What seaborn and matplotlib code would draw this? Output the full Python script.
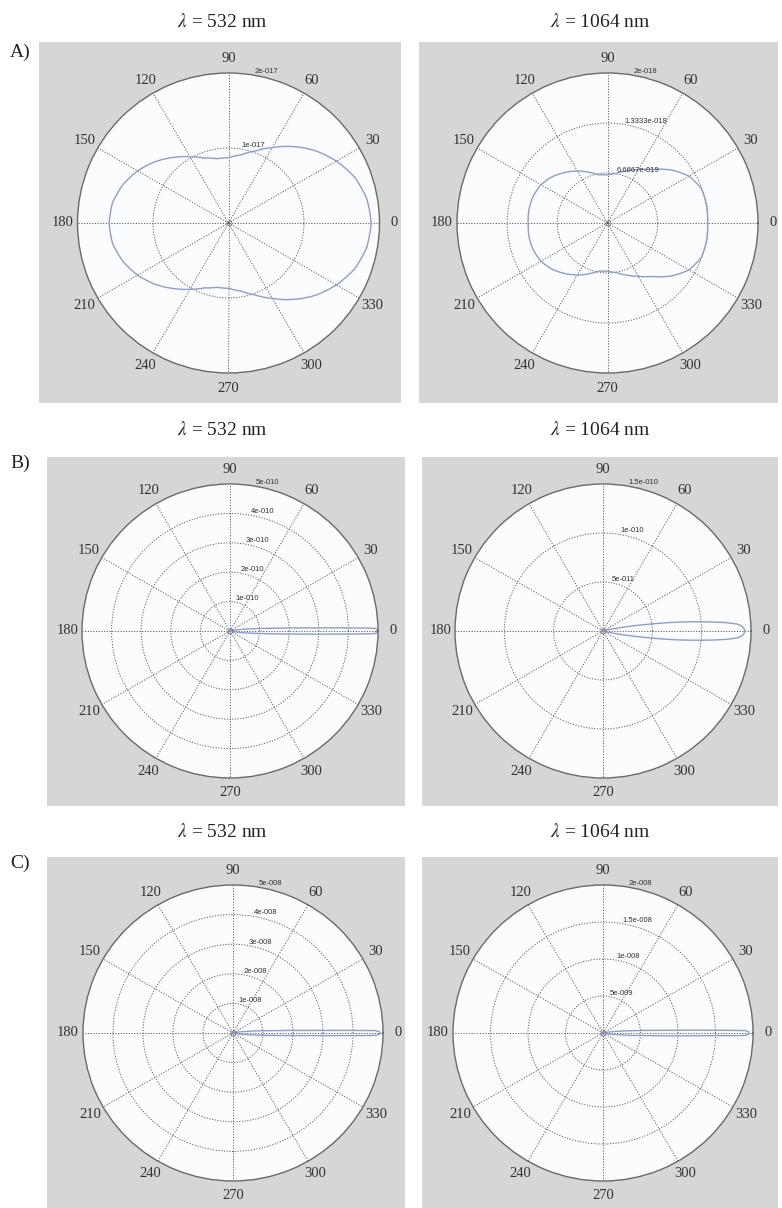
"""
Polar scattering patterns for 532 nm and 1064 nm, three particle cases.
"""

import matplotlib.pyplot as plt
import matplotlib.patches as mpatches
import numpy as np
import pandas as pd
import seaborn as sns


FIG_W, FIG_H = 782, 1208

PANEL_GRAY = "#d6d6d6"
CIRCLE_FACE = "#fbfcfe"
CURVE_BLUE = "#8d9ecb"
GRID_GRAY = "#5f5f5f"

TITLES = [r"$\lambda$ = 532 nm", r"$\lambda$ = 1064 nm"]
ROW_LABELS = ["A)", "B)", "C)"]

THETA_TICKS = list(range(0, 360, 30))
THETA_LABELS = [str(t) for t in THETA_TICKS]

# row A: angles in degrees, radii in units of the ring labels
ANGLES_A = list(range(0, 361, 10))
R_A_532 = [1.89, 1.86, 1.78, 1.65, 1.50, 1.33, 1.16, 1.02, 0.92, 0.87,
           0.87, 0.92, 1.02, 1.14, 1.27, 1.39, 1.49, 1.56, 1.58,
           1.56, 1.49, 1.39, 1.27, 1.14, 1.02, 0.92, 0.87,
           0.87, 0.92, 1.02, 1.16, 1.33, 1.50, 1.65, 1.78, 1.86, 1.89]
R_A_1064 = [1.33, 1.34, 1.33, 1.25, 1.10, 0.93, 0.82, 0.74, 0.67, 0.64,
            0.65, 0.72, 0.80, 0.88, 0.96, 1.02, 1.05, 1.06, 1.055,
            1.06, 1.05, 1.02, 0.96, 0.88, 0.80, 0.72, 0.65,
            0.64, 0.67, 0.74, 0.82, 0.93, 1.10, 1.25, 1.33, 1.34, 1.33]

# row B: narrow forward lobes
ANGLES_B_532 = [-18, -14, -10, -8, -6, -5, -4, -3, -2, -1.5, -1.25, -1, -0.5, 0,
                0.5, 1, 1.25, 1.5, 2, 3, 4, 5, 6, 8, 10, 14, 18]
R_B_532 = [0.0, 0.05, 0.20, 0.39, 0.71, 0.97, 1.35, 1.93, 3.00, 4.00, 4.65, 4.93, 4.95, 4.97,
           4.95, 4.93, 4.65, 4.00, 3.00, 1.93, 1.35, 0.97, 0.71, 0.39, 0.20, 0.05, 0.0]
ANGLES_B_1064 = [-16, -14, -12, -10, -9, -8, -7, -6, -5, -4, -3, -2, -1, 0,
                 1, 2, 3, 4, 5, 6, 7, 8, 9, 10, 12, 14, 16]
R_B_1064 = [0.0, 0.04, 0.12, 0.28, 0.40, 0.55, 0.73, 0.90, 1.07, 1.24, 1.36, 1.41, 1.43, 1.44,
            1.43, 1.41, 1.36, 1.24, 1.07, 0.90, 0.73, 0.55, 0.40, 0.28, 0.12, 0.04, 0.0]

# row C: very thin forward lobes
ANGLES_C_532 = [-18, -14, -10, -8, -6, -4, -3, -2, -1.5, -1, -0.5, 0,
                0.5, 1, 1.5, 2, 3, 4, 6, 8, 10, 14, 18]
R_C_532 = [0.0, 0.04, 0.17, 0.34, 0.61, 1.10, 1.59, 2.48, 3.30, 4.75, 4.88, 4.90,
           4.88, 4.75, 3.30, 2.48, 1.59, 1.10, 0.61, 0.34, 0.17, 0.04, 0.0]
ANGLES_C_1064 = [-18, -14, -10, -8, -6, -4, -3, -2, -1.5, -1, -0.5, 0,
                 0.5, 1, 1.5, 2, 3, 4, 6, 8, 10, 14, 18]
R_C_1064 = [0.0, 0.02, 0.07, 0.13, 0.26, 0.48, 0.69, 1.07, 1.43, 1.90, 1.94, 1.95,
            1.94, 1.90, 1.43, 1.07, 0.69, 0.48, 0.26, 0.13, 0.07, 0.02, 0.0]

RINGS_A_532 = [1, 2]
RING_LABELS_A_532 = ["1e-017", "2e-017"]
RINGS_A_1064 = [2 / 3, 4 / 3, 2]
RING_LABELS_A_1064 = ["6.6667e-019", "1.3333e-018", "2e-018"]
RINGS_B_532 = [1, 2, 3, 4, 5]
RING_LABELS_B_532 = ["1e-010", "2e-010", "3e-010", "4e-010", "5e-010"]
RINGS_B_1064 = [0.5, 1.0, 1.5]
RING_LABELS_B_1064 = ["5e-011", "1e-010", "1.5e-010"]
RINGS_C_532 = [1, 2, 3, 4, 5]
RING_LABELS_C_532 = ["1e-008", "2e-008", "3e-008", "4e-008", "5e-008"]
RINGS_C_1064 = [0.5, 1.0, 1.5, 2.0]
RING_LABELS_C_1064 = ["5e-009", "1e-008", "1.5e-008", "2e-008"]


def draw_panel(fig, panel_box, circle, angles, radii, rings, ring_labels):
    """Gray backing panel plus one MATLAB-style polar plot."""

    x0, y0, x1, y1 = panel_box
    fig.add_artist(mpatches.Rectangle(
        (x0 / FIG_W, 1 - y1 / FIG_H), (x1 - x0) / FIG_W, (y1 - y0) / FIG_H,
        transform=fig.transFigure, facecolor=PANEL_GRAY,
        edgecolor="none", zorder=-5
    ))

    cx, cy, rx, ry = circle
    ax = fig.add_axes(
        [(cx - rx) / FIG_W, 1 - (cy + ry) / FIG_H, 2 * rx / FIG_W, 2 * ry / FIG_H],
        projection="polar"
    )
    ax.set_aspect("auto")
    ax.set_facecolor(CIRCLE_FACE)

    curve = pd.DataFrame({"theta": np.deg2rad(angles), "r": radii})
    sns.lineplot(
        data=curve, x="theta", y="r", sort=False, estimator=None,
        color=CURVE_BLUE, linewidth=1.0, ax=ax
    )
    # let the polar transform bend the segments instead of drawing chords
    ax.lines[-1].get_path()._interpolation_steps = 40

    rmax = rings[-1]
    ax.set_xlim(0, 2 * np.pi)
    ax.set_ylim(0, rmax)
    ax.set_thetagrids(THETA_TICKS, labels=[""] * len(THETA_TICKS))
    ax.set_rgrids(rings[:-1], labels=[""] * (len(rings) - 1))
    ax.grid(True, color=GRID_GRAY, linestyle=(0, (1.2, 1.6)), linewidth=0.7)
    ax.spines["polar"].set_color("#6a6a6a")
    ax.spines["polar"].set_linewidth(1.0)
    ax.set_xlabel("")
    ax.set_ylabel("")

    # small ring MATLAB leaves at the origin
    ax.plot([0], [0], marker="o", markersize=3.5, markerfacecolor="none",
            markeredgecolor="#777777", markeredgewidth=0.6)

    for ang, lab in zip(THETA_TICKS, THETA_LABELS):
        ax.text(np.deg2rad(ang), rmax * 1.1, lab, ha="center", va="center",
                fontsize=10.5, family="Liberation Serif", color="#333333",
                clip_on=False)

    for ring, lab in zip(rings, ring_labels):
        ax.text(np.deg2rad(80), ring, lab, ha="left", va="bottom",
                fontsize=5.5, family="Liberation Sans", color="#333333",
                clip_on=False)


def main() -> None:
    sns.set_theme(style="white")
    plt.rcParams["font.family"] = ["Liberation Serif", "DejaVu Serif"]
    plt.rcParams["mathtext.fontset"] = "stix"

    fig = plt.figure(figsize=(FIG_W / 100, FIG_H / 100), dpi=100)

    rows = [
        ((39, 42, 401, 403), (419, 42, 778, 403),
         (228.5, 223, 151, 150), (607.5, 223, 150.5, 150),
         (ANGLES_A, R_A_532, RINGS_A_532, RING_LABELS_A_532),
         (ANGLES_A, R_A_1064, RINGS_A_1064, RING_LABELS_A_1064), 22, 52),
        ((47, 457, 405, 806), (422, 457, 778, 806),
         (230, 631, 148, 147), (603, 631, 148, 147),
         (ANGLES_B_532, R_B_532, RINGS_B_532, RING_LABELS_B_532),
         (ANGLES_B_1064, R_B_1064, RINGS_B_1064, RING_LABELS_B_1064), 430, 463),
        ((47, 857, 405, 1208), (422, 857, 778, 1208),
         (233, 1033, 150, 148), (603, 1033, 150, 148),
         (ANGLES_C_532, R_C_532, RINGS_C_532, RING_LABELS_C_532),
         (ANGLES_C_1064, R_C_1064, RINGS_C_1064, RING_LABELS_C_1064), 832, 863),
    ]

    for idx, (box_l, box_r, circ_l, circ_r, data_l, data_r, title_y, label_y) in enumerate(rows):
        draw_panel(fig, box_l, circ_l, *data_l)
        draw_panel(fig, box_r, circ_r, *data_r)

        fig.text(222 / FIG_W, 1 - title_y / FIG_H, TITLES[0], ha="center",
                 va="center", fontsize=14, color="#222222")
        fig.text(600 / FIG_W, 1 - title_y / FIG_H, TITLES[1], ha="center",
                 va="center", fontsize=14, color="#222222")
        fig.text(10 / FIG_W, 1 - label_y / FIG_H, ROW_LABELS[idx], ha="left",
                 va="center", fontsize=14, color="#222222")

    fig.savefig("out.png", dpi=100, facecolor="white")


if __name__ == "__main__":
    main()
